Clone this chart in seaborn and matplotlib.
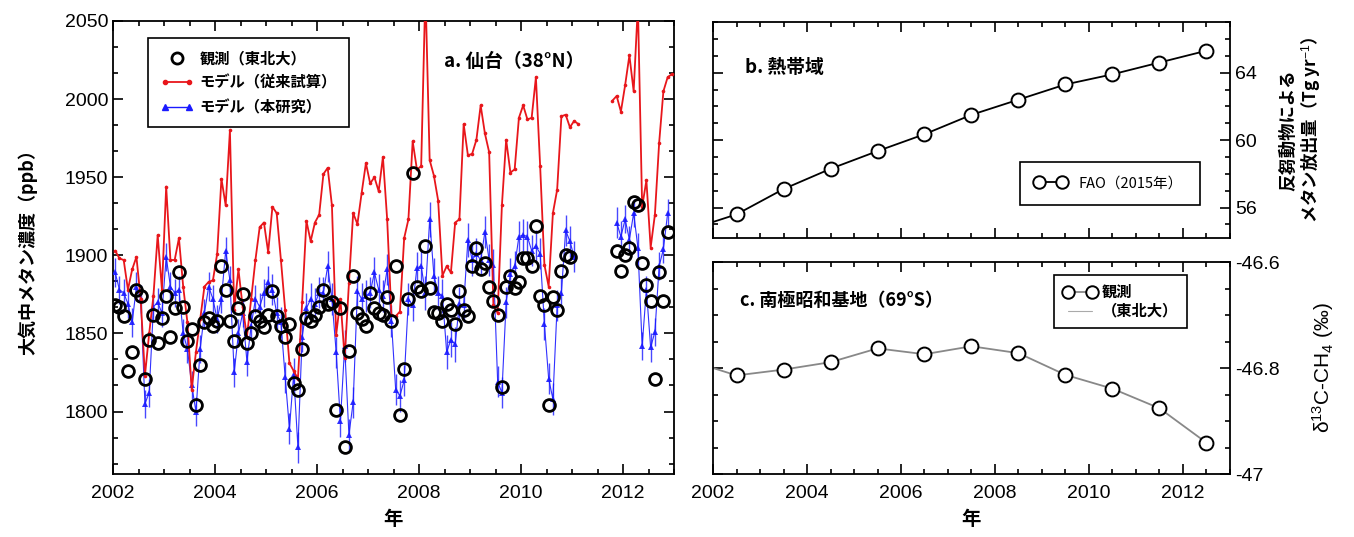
import numpy as np
import pandas as pd
import matplotlib
matplotlib.use("Agg")
import matplotlib.pyplot as plt
from matplotlib.ticker import MultipleLocator
from matplotlib.lines import Line2D
from matplotlib.legend_handler import HandlerLine2D
import seaborn as sns

nan = np.nan

# panel a: monthly values, Jan 2002 - Dec 2012 (ppb)
obs_ppb = [
    1868, 1867, 1861, 1826, 1838, 1878, 1874, 1821, 1846, 1862, 1844, 1860,
    1874, 1848, 1866, 1889, 1867, 1845, 1853, 1804, 1830, 1857, 1860, 1855,
    1858, 1893, 1878, 1858, 1845, 1866, 1875, 1844, 1850, 1861, 1858, 1854,
    1862, 1877, 1861, 1855, 1848, 1856, 1818, 1814, 1840, 1860, 1858, 1862,
    1867, 1878, 1869, 1870, 1801, 1866, 1777, 1839, 1887, 1863, 1859, 1855,
    1876, 1866, 1863, 1862, 1873, 1858, 1893, 1798, 1827, 1872, 1953, 1880,
    1877, 1906, 1879, 1864, 1863, 1858, 1869, 1865, 1856, 1877, 1865, 1861,
    1893, 1905, 1891, 1895, 1880, 1871, 1862, 1816, 1880, 1887, 1879, 1883,
    1898, 1898, 1893, 1919, 1874, 1868, 1804, 1873, 1865, 1890, 1900, 1899,
    nan, nan, nan, nan, nan, nan, nan, nan, nan, nan, 1903, 1890,
    1900, 1905, 1934, 1932, 1895, 1881, 1871, 1821, 1889, 1871, 1915, nan,
]
old_model_ppb = [
    1903, 1898, 1897, 1878, 1891, 1899, 1872, 1823, 1850, 1874, 1913, 1878,
    1944, 1897, 1897, 1911, 1880, 1857, 1814, 1838, 1859, 1880, 1883, 1884,
    1901, 1949, 1932, 1980, 1865, 1891, 1867, 1848, 1872, 1897, 1918, 1921,
    1902, 1931, 1927, 1897, 1865, 1831, 1826, 1821, 1870, 1922, 1909, 1921,
    1926, 1952, 1956, 1932, 1849, 1872, 1834, 1882, 1927, 1920, 1940, 1959,
    1946, 1950, 1941, 1963, 1923, 1862, 1861, 1864, 1911, 1923, 1973, 1955,
    1957, 2070, 1961, 1951, 1935, 1887, 1893, 1889, 1921, 1923, 1984, 1964,
    1965, 1974, 1996, 1978, 1966, 1868, 1863, 1932, 1974, 1953, 1955, 1988,
    1996, 1987, 1988, 2014, 1957, 1894, 1880, 1927, 1942, 1989, 1990, 1982,
    1986, 1984, nan, nan, nan, nan, nan, nan, nan, 1999, 2002, 1992,
    2009, 2028, 2005, 2060, 1931, 1948, 1905, 1926, 1972, 2005, 2014, 2016,
]
new_model_ppb = [
    1889, 1878, 1876, 1869, 1857, 1880, 1872, 1805, 1812, 1867, 1870, 1863,
    1899, 1880, 1876, 1878, 1850, 1840, 1817, 1800, 1840, 1863, 1880, 1872,
    1859, 1872, 1903, 1884, 1825, 1850, 1863, 1832, 1855, 1872, 1867, 1876,
    1883, 1878, 1863, 1857, 1822, 1789, 1824, 1777, 1848, 1866, 1872, 1869,
    1876, 1876, 1893, 1872, 1838, 1794, 1842, 1785, 1806, 1877, 1872, 1874,
    1876, 1889, 1878, 1874, 1891, 1858, 1814, 1810, 1820, 1872, 1868, 1892,
    1893, 1876, 1923, 1887, 1876, 1874, 1838, 1846, 1843, 1869, 1868, 1910,
    1897, 1901, 1897, 1915, 1897, 1894, 1819, 1812, 1870, 1888, 1893, 1912,
    1913, 1912, 1903, 1906, 1901, 1856, 1821, 1808, 1868, 1876, 1916, 1909,
    1899, nan, nan, nan, nan, nan, nan, nan, nan, nan, 1921, 1912,
    1923, 1910, 1927, 1905, 1842, 1878, 1841, 1851, 1893, 1904, 1927, nan,
]
# typical error bar half-width of the new model per year (ppb)
new_model_err = [9, 9, 9, 10, 10, 10, 11, 10, 10, 10, 9]

# panel b: ruminant methane emission (Tg/yr), annual
fao_years = [2001.5, 2002.5, 2003.5, 2004.5, 2005.5, 2006.5,
             2007.5, 2008.5, 2009.5, 2010.5, 2011.5, 2012.5]
fao_emis = [54.7, 55.6, 57.1, 58.3, 59.35, 60.35, 61.5, 62.4, 63.3, 63.9, 64.6, 65.3]

# panel c: d13C-CH4 at Syowa (permil), annual
d13c = [-46.786, -46.814, -46.803, -46.789, -46.763, -46.774,
        -46.759, -46.772, -46.813, -46.839, -46.876, -46.941]

sns.set_theme(style="ticks")
plt.rcParams['font.family'] = ['Liberation Sans', 'Noto Sans CJK JP', 'DejaVu Sans']
plt.rcParams['axes.unicode_minus'] = False
plt.rcParams['text.color'] = 'black'
plt.rcParams['axes.labelcolor'] = 'black'
plt.rcParams['mathtext.fontset'] = 'custom'
plt.rcParams['mathtext.rm'] = 'Liberation Sans'
plt.rcParams['mathtext.it'] = 'Liberation Sans:italic'
plt.rcParams['mathtext.bf'] = 'Liberation Sans:bold'

cjk = ['Noto Sans CJK JP', 'DejaVu Sans']
red = '#e8161b'
blue = '#1a1aff'

months = np.arange(len(obs_ppb))
df = pd.DataFrame({
    'year': 2002 + (months + 0.5) / 12,
    'obs': obs_ppb,
    'old': old_model_ppb,
    'new': new_model_ppb,
    'err': np.repeat(new_model_err, 12),
})
df['seg'] = (df['year'] > 2011.5).astype(int)

fig = plt.figure(figsize=(13.54, 5.37), dpi=100)
ax_a = fig.add_axes([0.0835, 0.1173, 0.4143, 0.8436])
ax_b = fig.add_axes([0.5266, 0.5568, 0.3818, 0.4022])
ax_c = fig.add_axes([0.5266, 0.1173, 0.3818, 0.3948])

# ---- panel a
ax_a.errorbar(df['year'], df['new'], yerr=df['err'], fmt='none',
              ecolor=blue, elinewidth=1.0, alpha=0.8, zorder=2)
sns.lineplot(data=df, x='year', y='new', units='seg', estimator=None, ax=ax_a,
             color=blue, lw=0.8, alpha=0.9, marker='^', ms=4.5,
             mec=blue, mew=0, legend=False, zorder=3)
sns.lineplot(data=df, x='year', y='old', units='seg', estimator=None, ax=ax_a,
             color=red, lw=1.3, marker='o', ms=2.6, mec=red, mew=0,
             legend=False, zorder=4)
sns.lineplot(data=df, x='year', y='obs', units='seg', estimator=None, ax=ax_a,
             color='black', linestyle='', marker='o', ms=8.5, mfc='none',
             mec='black', mew=2.0, legend=False, zorder=5)

ax_a.set_xlim(2002, 2013)
ax_a.set_ylim(1760, 2050)
ax_a.xaxis.set_major_locator(MultipleLocator(2))
ax_a.xaxis.set_minor_locator(MultipleLocator(0.5))
ax_a.set_yticks([1800, 1850, 1900, 1950, 2000, 2050])
ax_a.yaxis.set_minor_locator(MultipleLocator(50 / 3))
ax_a.set_xlabel('年', family=cjk, fontsize=14, weight='bold', labelpad=6)
ax_a.set_ylabel('大気中メタン濃度（ppb）', family=cjk, fontsize=13, weight='bold', labelpad=20)
ax_a.text(0.59, 0.91, 'a. 仙台（38°N）', transform=ax_a.transAxes,
          family=cjk, fontsize=13.5, weight='bold', va='center')

h_obs = Line2D([], [], color='black', ls='', marker='o', ms=8, mfc='none', mew=2)
h_old = Line2D([], [], color=red, lw=1.3, marker='o', ms=3)
h_new = Line2D([], [], color=blue, lw=1.0, marker='^', ms=5)
leg = ax_a.legend([h_obs, h_old, h_new], ['観測（東北大）', 'モデル（従来試算）', 'モデル（本研究）'],
                  loc='upper left', bbox_to_anchor=(0.062, 0.962), borderaxespad=0,
                  numpoints=2, handlelength=2.2, handletextpad=0.4,
                  handler_map={h_obs: HandlerLine2D(numpoints=1)},
                  prop={'family': cjk, 'size': 11, 'weight': 'bold'},
                  fancybox=False, framealpha=1, edgecolor='black', borderpad=0.8,
                  labelspacing=0.55)
leg.get_frame().set_linewidth(1.2)

# ---- panel b
sns.lineplot(x=fao_years, y=fao_emis, ax=ax_b, color='black', lw=1.3,
             marker='o', ms=10, mfc='white', mec='black', mew=1.4, legend=False)
ax_b.set_xlim(2002, 2013)
ax_b.set_ylim(54.2, 67.0)
ax_b.xaxis.set_major_locator(MultipleLocator(2))
ax_b.xaxis.set_minor_locator(MultipleLocator(0.5))
ax_b.set_yticks([56, 60, 64])
ax_b.yaxis.set_minor_locator(MultipleLocator(1))
ax_b.tick_params(axis='x', labelbottom=False)
ax_b.yaxis.tick_right()
ax_b.yaxis.set_label_position('right')
ax_b.set_ylabel('反芻動物による\nメタン放出量（Tg yr$^{-1}$）', family=cjk, fontsize=12.5,
                weight='bold', rotation=90, labelpad=16, linespacing=1.15)
ax_b.text(0.062, 0.79, 'b. 熱帯域', transform=ax_b.transAxes,
          family=cjk, fontsize=13.5, weight='bold', va='center')
h_fao = Line2D([], [], color='black', lw=1.3, marker='o', ms=9, mfc='white', mew=1.4)
leg_b = ax_b.legend([h_fao], ['FAO（2015年）'], loc='lower left',
                    bbox_to_anchor=(0.594, 0.153, 0.348, 0.231), mode='expand',
                    borderaxespad=0, numpoints=2, handlelength=2.2,
                    prop={'family': cjk, 'size': 10.5}, fancybox=False,
                    framealpha=1, edgecolor='black', borderpad=1.0)
leg_b.get_frame().set_linewidth(1.2)

# ---- panel c
sns.lineplot(x=fao_years, y=d13c, ax=ax_c, color='#888888', lw=1.3,
             marker='o', ms=10, mfc='white', mec='black', mew=1.4, legend=False)
ax_c.set_xlim(2002, 2013)
ax_c.set_ylim(-47.0, -46.6)
ax_c.xaxis.set_major_locator(MultipleLocator(2))
ax_c.xaxis.set_minor_locator(MultipleLocator(0.5))
ax_c.set_yticks([-47.0, -46.8, -46.6], ['-47', '-46.8', '-46.6'])
ax_c.yaxis.set_minor_locator(MultipleLocator(0.05))
ax_c.yaxis.tick_right()
ax_c.yaxis.set_label_position('right')
ax_c.set_ylabel('δ$^{13}$C-CH$_4$ (‰)', fontsize=15, rotation=90, labelpad=22)
ax_c.set_xlabel('年', family=cjk, fontsize=14, weight='bold', labelpad=6)
ax_c.text(0.052, 0.82, 'c. 南極昭和基地（69°S）', transform=ax_c.transAxes,
          family=cjk, fontsize=13, weight='bold', va='center')
h_c1 = Line2D([], [], color='#888888', lw=1.3, marker='o', ms=9, mfc='white', mec='black', mew=1.4)
h_c2 = Line2D([], [], color='#aaaaaa', lw=0.8)
leg_c = ax_c.legend([h_c1, h_c2], ['観測', '（東北大）'], loc='upper left',
                    bbox_to_anchor=(0.66, 0.94), borderaxespad=0, numpoints=2,
                    handlelength=2.2, handletextpad=0.3, labelspacing=0.2,
                    prop={'family': cjk, 'size': 11, 'weight': 'bold'}, fancybox=False,
                    framealpha=1, edgecolor='black', borderpad=0.6)
leg_c.get_frame().set_linewidth(1.2)

for ax in (ax_a, ax_b, ax_c):
    ax.tick_params(which='both', top=True, right=True, left=True, bottom=True,
                   direction='in', color='black', width=1.2)
    ax.tick_params(which='major', length=7, labelsize=14, labelcolor='black')
    ax.tick_params(which='minor', length=3.5)
    for s in ax.spines.values():
        s.set_color('black')
        s.set_linewidth(1.3)
ax_b.tick_params(axis='y', which='both', labelleft=False, labelright=True)
ax_c.tick_params(axis='y', which='both', labelleft=False, labelright=True)
ax_a.tick_params(axis='x', pad=8)
ax_c.tick_params(axis='x', pad=8)

fig.savefig('out.png', dpi=100)
